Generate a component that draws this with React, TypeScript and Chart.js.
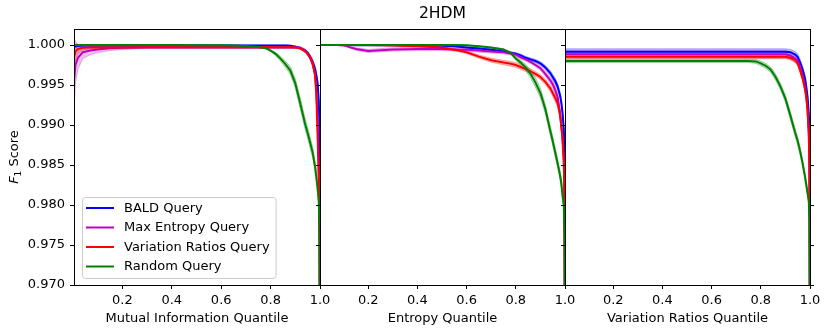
import React, { useEffect, useRef } from "react";
import { Chart, registerables } from "chart.js";
Chart.register(...registerables);

const FONT = "'DejaVu Sans', 'Liberation Sans', sans-serif";

const quantiles = [
  0.004, 0.01, 0.02, 0.04, 0.07, 0.1, 0.15, 0.2, 0.3, 0.4,
  0.5, 0.55, 0.6, 0.65, 0.7, 0.75, 0.78, 0.8, 0.82, 0.84,
  0.86, 0.88, 0.9, 0.92, 0.94, 0.95, 0.96, 0.97, 0.98, 0.985,
  0.99, 0.995, 0.998, 1.0,
];
const yTicks = [0.97, 0.975, 0.98, 0.985, 0.99, 0.995, 1.0];
const xTicks = [0.2, 0.4, 0.6, 0.8, 1.0];
const xTitles = ["Mutual Information Quantile", "Entropy Quantile", "Variation Ratios Quantile"];
const figTitle = "2HDM";
const seriesLabels = ["BALD Query", "Max Entropy Query", "Variation Ratios Query", "Random Query"];
const seriesColors = ["0,0,255", "191,0,191", "255,0,0", "0,128,0"];

// ---- Mutual Information panel ----
const miBald = [
  0.9998, 0.99985, 0.9999, 0.99993, 0.99995, 0.99995, 0.99995, 0.99995, 0.99995, 0.99995,
  0.99995, 0.99995, 0.99995, 0.99995, 0.99995, 0.99995, 0.99995, 0.99995, 0.99995, 0.99995,
  0.99995, 0.9999, 0.9998, 0.9996, 0.9993, 0.999, 0.9985, 0.9979, 0.997, 0.9962,
  0.9953, 0.993, 0.99, 0.96,
];
const miBaldSd = [
  0.0003, 0.0002, 0.00012, 0.00008, 0.00006, 0.00005, 0.00005, 0.00005, 0.00005, 0.00005,
  0.00005, 0.00005, 0.00005, 0.00005, 0.00005, 0.00005, 0.00005, 0.00005, 0.00005, 0.00005,
  0.00006, 0.00008, 0.0001, 0.00015, 0.0002, 0.00025, 0.0003, 0.00035, 0.0004, 0.00045,
  0.0005, 0.0006, 0.0006, 0.0006,
];
const miMaxEnt = [
  0.9955, 0.9975, 0.9984, 0.9991, 0.9993, 0.99945, 0.9996, 0.99965, 0.9997, 0.9997,
  0.9997, 0.9997, 0.9997, 0.9997, 0.9997, 0.9997, 0.9997, 0.9997, 0.9997, 0.9997,
  0.9997, 0.9997, 0.9997, 0.99965, 0.9993, 0.9989, 0.9984, 0.9976, 0.9964, 0.9945,
  0.991, 0.985, 0.977, 0.96,
];
const miMaxEntSd = [
  0.004, 0.0022, 0.0014, 0.0008, 0.0005, 0.0004, 0.0003, 0.0002, 0.00012, 0.0001,
  0.0001, 0.0001, 0.0001, 0.0001, 0.0001, 0.0001, 0.0001, 0.0001, 0.0001, 0.0001,
  0.0001, 0.0001, 0.0001, 0.00012, 0.00015, 0.0002, 0.00025, 0.0003, 0.00035, 0.0004,
  0.0005, 0.0006, 0.0006, 0.0006,
];
const miVarRat = [
  0.9985, 0.9992, 0.9995, 0.99965, 0.9997, 0.9997, 0.9997, 0.9997, 0.99972, 0.99972,
  0.99972, 0.99972, 0.99972, 0.99972, 0.99972, 0.99972, 0.99972, 0.99972, 0.99972, 0.99972,
  0.99972, 0.99972, 0.9997, 0.9996, 0.9992, 0.9989, 0.9985, 0.9978, 0.9962, 0.9938,
  0.989, 0.983, 0.975, 0.96,
];
const miVarRatSd = [
  0.0025, 0.0012, 0.0006, 0.0003, 0.0002, 0.00015, 0.00012, 0.0001, 0.0001, 0.0001,
  0.0001, 0.0001, 0.0001, 0.0001, 0.0001, 0.0001, 0.0001, 0.0001, 0.0001, 0.0001,
  0.0001, 0.0001, 0.0001, 0.00012, 0.00015, 0.0002, 0.00025, 0.0003, 0.0004, 0.0005,
  0.0006, 0.0006, 0.0006, 0.0006,
];
const miRandom = [
  1.0, 1.0, 1.0, 1.0, 1.0, 1.0, 1.0, 1.0, 1.0, 1.0,
  0.99998, 0.99997, 0.99996, 0.99993, 0.99988, 0.99975, 0.9996, 0.9993, 0.9989, 0.9983,
  0.9976, 0.9968, 0.9952, 0.9927, 0.9901, 0.989, 0.9878, 0.9866, 0.9848, 0.9835,
  0.9822, 0.9805, 0.977, 0.96,
];
const miRandomSd = [
  0.00003, 0.00003, 0.00003, 0.00003, 0.00003, 0.00003, 0.00003, 0.00003, 0.00003, 0.00003,
  0.00003, 0.00003, 0.00003, 0.00003, 0.00003, 0.00005, 0.00008, 0.00012, 0.0002, 0.0003,
  0.0004, 0.0005, 0.0006, 0.0007, 0.0007, 0.0007, 0.0007, 0.0007, 0.0007, 0.0007,
  0.0007, 0.0007, 0.0007, 0.0007,
];

// ---- Entropy panel ----
const enBald = [
  1.0, 1.0, 1.0, 1.0, 1.0, 1.0, 0.99998, 0.99997, 0.99996, 0.99994,
  0.9999, 0.99985, 0.9997, 0.99955, 0.9994, 0.9992, 0.999, 0.9989, 0.9987, 0.9984,
  0.9982, 0.998, 0.9977, 0.9972, 0.9965, 0.996, 0.9955, 0.9948, 0.9937, 0.9928,
  0.9915, 0.9895, 0.987, 0.96,
];
const enBaldSd = [
  0.00003, 0.00003, 0.00003, 0.00003, 0.00003, 0.00003, 0.00003, 0.00003, 0.00003, 0.00003,
  0.00006, 0.00008, 0.0001, 0.00012, 0.00013, 0.00014, 0.00015, 0.00015, 0.00016, 0.00017,
  0.00018, 0.0002, 0.0002, 0.00025, 0.0003, 0.00033, 0.00036, 0.0004, 0.0004, 0.00045,
  0.0005, 0.0005, 0.0005, 0.0005,
];
const enMaxEnt = [
  1.0, 1.0, 1.0, 1.0, 1.0, 0.99995, 0.9995, 0.99925, 0.99945, 0.9995,
  0.9995, 0.99945, 0.9994, 0.9993, 0.9992, 0.9991, 0.99895, 0.9988, 0.99845, 0.9982,
  0.9979, 0.9975, 0.9971, 0.9964, 0.9956, 0.9951, 0.9944, 0.9935, 0.9915, 0.99,
  0.988, 0.9855, 0.982, 0.96,
];
const enMaxEntSd = [
  0.00003, 0.00003, 0.00003, 0.00003, 0.00003, 0.00005, 0.00015, 0.0002, 0.0002, 0.0002,
  0.0002, 0.0002, 0.0002, 0.0002, 0.0002, 0.0002, 0.0002, 0.0002, 0.0002, 0.0002,
  0.0002, 0.0002, 0.00025, 0.0003, 0.00035, 0.0004, 0.00045, 0.00045, 0.00045, 0.00045,
  0.00045, 0.00045, 0.00045, 0.00045,
];
const enVarRat = [
  1.0, 1.0, 1.0, 1.0, 1.0, 1.0, 1.0, 1.0, 0.99995, 0.99985,
  0.99968, 0.99942, 0.9991, 0.99855, 0.9981, 0.9978, 0.99765, 0.9975, 0.99725, 0.997,
  0.9967, 0.9964, 0.996, 0.9954, 0.99458, 0.994, 0.9934, 0.9927, 0.9912, 0.9898,
  0.9885, 0.9856, 0.98, 0.96,
];
const enVarRatSd = [
  0.00003, 0.00003, 0.00003, 0.00003, 0.00003, 0.00003, 0.00003, 0.00003, 0.00003, 0.00006,
  0.0001, 0.00013, 0.00016, 0.0002, 0.00025, 0.00028, 0.0003, 0.0003, 0.0003, 0.0003,
  0.0003, 0.0003, 0.0003, 0.00033, 0.00036, 0.0004, 0.00045, 0.00045, 0.00045, 0.00045,
  0.00045, 0.00045, 0.00045, 0.00045,
];
const enRandom = [
  1.0, 1.0, 1.0, 1.0, 1.0, 1.0, 1.0, 1.0, 1.0, 1.0,
  1.0, 1.0, 0.99998, 0.99985, 0.9997, 0.99945, 0.999, 0.9983, 0.9978, 0.9972,
  0.9964, 0.9953, 0.994, 0.992, 0.9893, 0.988, 0.9866, 0.9852, 0.9837, 0.9827,
  0.9812, 0.98, 0.976, 0.96,
];
const enRandomSd = [
  0.00003, 0.00003, 0.00003, 0.00003, 0.00003, 0.00003, 0.00003, 0.00003, 0.00003, 0.00003,
  0.00003, 0.00003, 0.00003, 0.00003, 0.00005, 0.0001, 0.00015, 0.0002, 0.0003, 0.0004,
  0.0005, 0.0006, 0.0006, 0.0006, 0.0006, 0.0006, 0.0006, 0.0006, 0.0006, 0.0006,
  0.0006, 0.0006, 0.0006, 0.0006,
];

// ---- Variation Ratios panel ----
const vrBald = [
  0.99917, 0.99917, 0.99917, 0.99917, 0.99917, 0.99917, 0.99917, 0.99917, 0.99917, 0.99917,
  0.99917, 0.99917, 0.99917, 0.99917, 0.99917, 0.99917, 0.99917, 0.99917, 0.99917, 0.99917,
  0.99917, 0.99917, 0.99917, 0.9991, 0.9988, 0.9985, 0.9978, 0.9969, 0.9958, 0.9947,
  0.9935, 0.9915, 0.989, 0.96,
];
const vrBaldSd = [
  0.00035, 0.00035, 0.00035, 0.00035, 0.00035, 0.00035, 0.00035, 0.00035, 0.00035, 0.00035,
  0.00035, 0.00035, 0.00035, 0.00035, 0.00035, 0.00035, 0.00035, 0.00035, 0.00035, 0.00035,
  0.00035, 0.00035, 0.00035, 0.00035, 0.0004, 0.0004, 0.0004, 0.00045, 0.00045, 0.0005,
  0.0005, 0.0005, 0.0005, 0.0005,
];
const vrMaxEnt = [
  0.99883, 0.99883, 0.99883, 0.99883, 0.99883, 0.99883, 0.99883, 0.99883, 0.99883, 0.99883,
  0.99883, 0.99883, 0.99883, 0.99883, 0.99883, 0.99883, 0.99883, 0.99883, 0.99883, 0.99883,
  0.99883, 0.99883, 0.99883, 0.9987, 0.9983, 0.998, 0.9973, 0.9962, 0.9948, 0.9937,
  0.992, 0.989, 0.985, 0.96,
];
const vrMaxEntSd = [
  0.00045, 0.00045, 0.00045, 0.00045, 0.00045, 0.00045, 0.00045, 0.00045, 0.00045, 0.00045,
  0.00045, 0.00045, 0.00045, 0.00045, 0.00045, 0.00045, 0.00045, 0.00045, 0.00045, 0.00045,
  0.00045, 0.00045, 0.00045, 0.00045, 0.0005, 0.0005, 0.0005, 0.0005, 0.0005, 0.0005,
  0.0005, 0.0005, 0.0005, 0.0005,
];
const vrVarRat = [
  0.99854, 0.99854, 0.99854, 0.99854, 0.99854, 0.99854, 0.99854, 0.99854, 0.99854, 0.99854,
  0.99854, 0.99854, 0.99854, 0.99854, 0.99854, 0.99854, 0.99854, 0.99854, 0.99854, 0.99854,
  0.99854, 0.99854, 0.99854, 0.9984, 0.9981, 0.9977, 0.9968, 0.9958, 0.9944, 0.9934,
  0.9918, 0.989, 0.984, 0.96,
];
const vrVarRatSd = [
  0.00025, 0.00025, 0.00025, 0.00025, 0.00025, 0.00025, 0.00025, 0.00025, 0.00025, 0.00025,
  0.00025, 0.00025, 0.00025, 0.00025, 0.00025, 0.00025, 0.00025, 0.00025, 0.00025, 0.00025,
  0.00025, 0.00025, 0.00025, 0.00025, 0.0003, 0.0003, 0.0003, 0.0003, 0.0003, 0.0003,
  0.0003, 0.0003, 0.0003, 0.0003,
];
const vrRandom = [
  0.998, 0.998, 0.998, 0.998, 0.998, 0.998, 0.998, 0.998, 0.998, 0.998,
  0.998, 0.998, 0.998, 0.998, 0.998, 0.998, 0.99795, 0.9977, 0.9974, 0.9969,
  0.996, 0.9948, 0.9933, 0.9912, 0.989, 0.988, 0.9867, 0.9852, 0.9835, 0.9825,
  0.9815, 0.9805, 0.978, 0.96,
];
const vrRandomSd = [
  0.0002, 0.0002, 0.0002, 0.0002, 0.0002, 0.0002, 0.0002, 0.0002, 0.0002, 0.0002,
  0.0002, 0.0002, 0.0002, 0.0002, 0.0002, 0.0002, 0.00025, 0.0003, 0.0003, 0.00035,
  0.0004, 0.0004, 0.00045, 0.0005, 0.0005, 0.0005, 0.0005, 0.0005, 0.0005, 0.0005,
  0.0005, 0.0005, 0.0005, 0.0005,
];

const panelMeans = [
  [miBald, miMaxEnt, miVarRat, miRandom],
  [enBald, enMaxEnt, enVarRat, enRandom],
  [vrBald, vrMaxEnt, vrVarRat, vrRandom],
];
const panelSds = [
  [miBaldSd, miMaxEntSd, miVarRatSd, miRandomSd],
  [enBaldSd, enMaxEntSd, enVarRatSd, enRandomSd],
  [vrBaldSd, vrMaxEntSd, vrVarRatSd, vrRandomSd],
];

const W = 830;
const H = 335;
// layout per panel (pixel placement of the three sub-plots)
const panelLayout = [
  { padding: { left: 0, right: 510, top: 29, bottom: 0 }, yWidth: 74, yLabels: true, title: false, rightTicks: false },
  { padding: { left: 320, right: 265, top: 0, bottom: 0 }, yWidth: 0, yLabels: false, title: true, rightTicks: false },
  { padding: { left: 565, right: 20, top: 29, bottom: 0 }, yWidth: 0, yLabels: false, title: false, rightTicks: true },
];

const align = (v: number) => Math.round(v - 0.5) + 0.5;

const framePlugin = {
  id: "frame",
  afterDatasetsDraw(chart: any) {
    const { ctx, chartArea } = chart;
    ctx.save();
    ctx.strokeStyle = "#000";
    ctx.lineWidth = 1;
    const l = align(chartArea.left), r = align(chartArea.right);
    const t = align(chartArea.top), b = align(chartArea.bottom);
    ctx.strokeRect(l, t, r - l, b - t);
    ctx.restore();
  },
};

const yLabelPlugin = {
  id: "yLabel",
  afterDraw(chart: any) {
    const { ctx, chartArea } = chart;
    ctx.save();
    const cy = (chartArea.top + chartArea.bottom) / 2;
    ctx.translate(15, cy);
    ctx.rotate(-Math.PI / 2);
    ctx.fillStyle = "#000";
    ctx.textBaseline = "middle";
    const fMain = `italic 13px ${FONT}`;
    const fSub = `9px ${FONT}`;
    const fRest = `13px ${FONT}`;
    ctx.font = fMain;
    const wF = ctx.measureText("F").width;
    ctx.font = fSub;
    const w1 = ctx.measureText("1").width;
    ctx.font = fRest;
    const wS = ctx.measureText(" Score").width;
    let x = -(wF + w1 + wS) / 2;
    ctx.textAlign = "left";
    ctx.font = fMain;
    ctx.fillText("F", x, 0);
    x += wF;
    ctx.font = fSub;
    ctx.fillText("1", x, 4);
    x += w1;
    ctx.font = fRest;
    ctx.fillText(" Score", x, 0);
    ctx.restore();
  },
};

const legendPlugin = {
  id: "boxLegend",
  afterDraw(chart: any) {
    const { ctx, chartArea } = chart;
    const items = chart.data.datasets.filter((d: any) => d.isMean);
    ctx.save();
    ctx.font = `13px ${FONT}`;
    let tw = 0;
    items.forEach((d: any) => { tw = Math.max(tw, ctx.measureText(d.label).width); });
    const rowH = 19.5;
    const boxX = chartArea.left + 8;
    const boxW = 4 + 28 + 10 + tw + 6;
    const boxH = 81;
    const boxY = chartArea.bottom - 7 - boxH;
    ctx.beginPath();
    (ctx as any).roundRect(boxX + 0.5, boxY + 0.5, boxW, boxH, 3);
    ctx.fillStyle = "rgba(255,255,255,0.8)";
    ctx.fill();
    ctx.strokeStyle = "#cccccc";
    ctx.lineWidth = 1;
    ctx.stroke();
    items.forEach((d: any, k: number) => {
      const cy = boxY + 11 + k * rowH;
      ctx.beginPath();
      ctx.moveTo(boxX + 4, cy);
      ctx.lineTo(boxX + 32, cy);
      ctx.strokeStyle = d.borderColor;
      ctx.lineWidth = 2;
      ctx.stroke();
      ctx.fillStyle = "#000";
      ctx.textBaseline = "middle";
      ctx.textAlign = "left";
      ctx.fillText(d.label, boxX + 42, cy + 0.5);
    });
    ctx.restore();
  },
};

function makeConfig(p: number): any {
  const lay = panelLayout[p];
  const means = panelMeans[p];
  const sds = panelSds[p];
  const datasets: any[] = [];
  means.forEach((ys, s) => {
    const sd = sds[s];
    const c = seriesColors[s];
    const upperIndex = datasets.length;
    datasets.push({
      label: seriesLabels[s] + " band upper",
      data: quantiles.map((x, i) => ({ x, y: ys[i] + sd[i] })),
      borderColor: `rgba(${c},0.3)`,
      borderWidth: 1,
      backgroundColor: `rgba(${c},0.25)`,
      fill: { target: upperIndex + 1 },
      pointRadius: 0,
      order: 20 - s,
    });
    datasets.push({
      label: seriesLabels[s] + " band lower",
      data: quantiles.map((x, i) => ({ x, y: ys[i] - sd[i] })),
      borderColor: `rgba(${c},0.3)`,
      borderWidth: 1,
      fill: false,
      pointRadius: 0,
      order: 20 - s,
    });
  });
  means.forEach((ys, s) => {
    const c = seriesColors[s];
    datasets.push({
      label: seriesLabels[s],
      isMean: true,
      data: quantiles.map((x, i) => ({ x, y: ys[i] })),
      borderColor: `rgb(${c})`,
      borderWidth: 2,
      pointRadius: 0,
      fill: false,
      order: 4 - s,
    });
  });

  const tickFont = { family: FONT, size: 13 };
  const scales: any = {
    x: {
      type: "linear",
      min: quantiles[0],
      max: quantiles[quantiles.length - 1],
      afterBuildTicks: (sc: any) => { sc.ticks = xTicks.map((v) => ({ value: v })); },
      afterFit: (sc: any) => { sc.height = 50; },
      ticks: {
        callback: (v: any) => Number(v).toFixed(1),
        font: tickFont,
        color: "#000",
        padding: 4,
        maxRotation: 0,
        autoSkip: false,
      },
      grid: { drawOnChartArea: false, drawTicks: true, tickLength: 4, tickColor: "#000", tickWidth: 1 },
      border: { display: false },
      title: {
        display: true,
        text: xTitles[p],
        font: tickFont,
        color: "#000",
        padding: { top: 0, bottom: 9 },
      },
    },
    y: {
      type: "linear",
      position: "left",
      min: 0.97,
      max: 1.002,
      afterBuildTicks: (sc: any) => { sc.ticks = yTicks.map((v) => ({ value: v })); },
      afterFit: (sc: any) => { sc.width = lay.yWidth; },
      ticks: {
        display: lay.yLabels,
        callback: (v: any) => Number(v).toFixed(3),
        font: tickFont,
        color: "#000",
        padding: 5,
      },
      grid: { drawOnChartArea: false, drawTicks: true, tickLength: 4, tickColor: "#000", tickWidth: 1 },
      border: { display: false },
    },
  };
  if (lay.rightTicks) {
    scales.y2 = {
      type: "linear",
      position: "right",
      min: 0.97,
      max: 1.002,
      afterBuildTicks: (sc: any) => { sc.ticks = yTicks.map((v) => ({ value: v })); },
      afterFit: (sc: any) => { sc.width = 0; },
      ticks: { display: false },
      grid: { drawOnChartArea: false, drawTicks: true, tickLength: 4, tickColor: "#000", tickWidth: 1 },
      border: { display: false },
    };
  }

  const plugins: any[] = [framePlugin];
  if (p === 0) plugins.push(yLabelPlugin, legendPlugin);

  return {
    type: "line",
    data: { datasets },
    options: {
      animation: false,
      responsive: false,
      maintainAspectRatio: false,
      events: [],
      layout: { padding: lay.padding },
      elements: { line: { tension: 0 } },
      scales,
      plugins: {
        legend: { display: false },
        tooltip: { enabled: false },
        title: {
          display: lay.title,
          text: figTitle,
          color: "#000",
          font: { family: FONT, size: 15.6, weight: "normal" },
          padding: { top: 5, bottom: 5.28 },
        },
      },
    },
    plugins,
  };
}

export default function App() {
  const r0 = useRef<HTMLCanvasElement>(null);
  const r1 = useRef<HTMLCanvasElement>(null);
  const r2 = useRef<HTMLCanvasElement>(null);

  useEffect(() => {
    Chart.defaults.font.family = FONT;
    Chart.defaults.color = "#000";
    const refs = [r0, r1, r2];
    const charts = refs.map((r, p) => new Chart(r.current as HTMLCanvasElement, makeConfig(p)));
    return () => { charts.forEach((c) => c.destroy()); };
  }, []);

  const cs: React.CSSProperties = { position: "absolute", left: 0, top: 0, width: W, height: H };
  return (
    <div style={{ position: "absolute", left: 0, top: 0, width: W, height: H, background: "#fff" }}>
      <canvas ref={r0} width={W} height={H} style={cs} />
      <canvas ref={r1} width={W} height={H} style={cs} />
      <canvas ref={r2} width={W} height={H} style={cs} />
    </div>
  );
}
